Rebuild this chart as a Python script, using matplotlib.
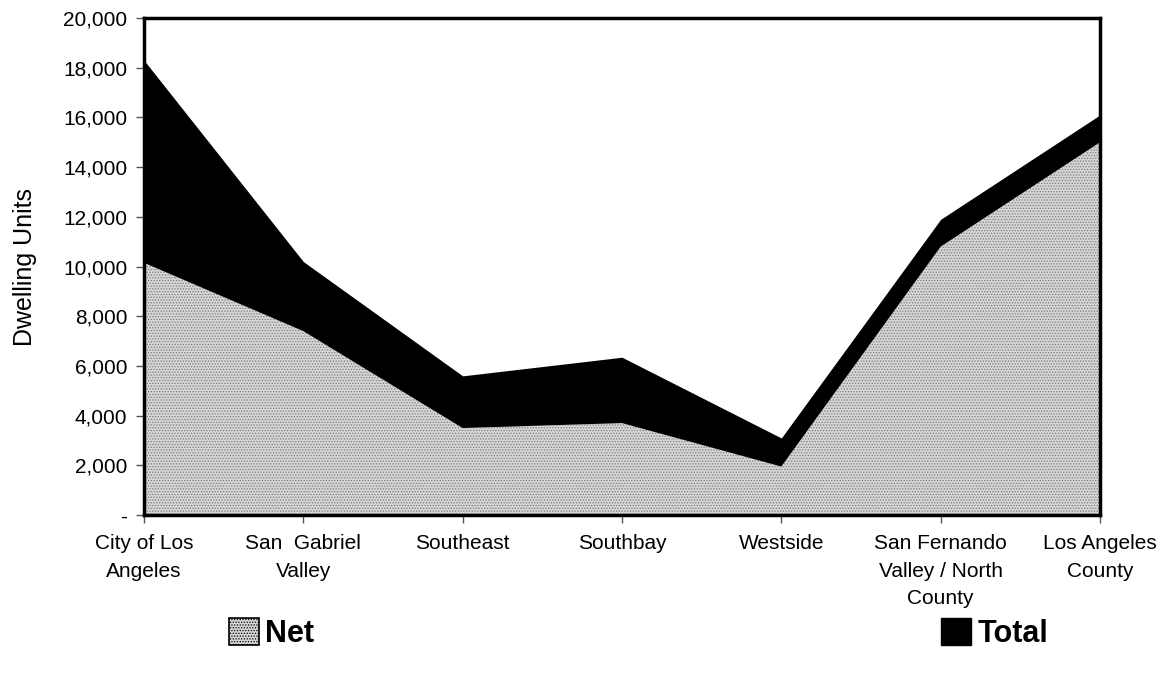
import matplotlib
matplotlib.use("Agg")
import matplotlib.pyplot as plt
from matplotlib.patches import Patch
import numpy as np

plt.rcParams["font.family"] = ["Liberation Sans", "DejaVu Sans"]
plt.rcParams["hatch.linewidth"] = 0.6

categories = [
    "City of Los\nAngeles",
    "San  Gabriel\nValley",
    "Southeast",
    "Southbay",
    "Westside",
    "San Fernando\nValley / North\nCounty",
    "Los Angeles\nCounty",
]
net = [10150, 7400, 3500, 3700, 1950, 10800, 15000]
total = [18300, 10200, 5600, 6350, 3100, 11900, 16100]
y_ticks = [0, 2000, 4000, 6000, 8000, 10000, 12000, 14000, 16000, 18000, 20000]
y_labels = ["-", "2,000", "4,000", "6,000", "8,000", "10,000",
            "12,000", "14,000", "16,000", "18,000", "20,000"]

NET_FACE = "#d6d6d6"
NET_HATCH = "#7a7a7a"

fig = plt.figure(figsize=(11.64, 6.75), dpi=100)
ax = fig.add_axes([0.1237, 0.237, 0.8213, 0.7363])

x = np.arange(len(categories))
ax.fill_between(x, 0, total, color="black", linewidth=0)
ax.fill_between(x, 0, net, facecolor=NET_FACE, edgecolor=NET_HATCH,
                hatch="......", linewidth=0)

ax.set_xlim(0, len(categories) - 1)
ax.set_ylim(0, 20000)
ax.set_xticks(x)
ax.set_xticklabels(categories, fontsize=15)
for lbl in ax.get_xticklabels():
    lbl.set_linespacing(1.55)
ax.set_yticks(y_ticks)
ax.set_yticklabels(y_labels, fontsize=15)
ax.tick_params(axis="both", direction="out", length=6, width=1, color="#555555")
ax.tick_params(axis="x", pad=8)
ax.tick_params(axis="y", pad=6)
ax.set_ylabel("Dwelling Units", fontsize=18, labelpad=19)

for s in ax.spines.values():
    s.set_linewidth(2.5)
    s.set_color("black")

handles = [
    Patch(facecolor=NET_FACE, edgecolor="black", hatch="......", linewidth=1.2, label="Net"),
    Patch(facecolor="black", edgecolor="black", label="Total"),
]
fig.legend(handles=handles, loc="center", bbox_to_anchor=(0.5485, 0.062), ncol=2,
           frameon=False, prop={"size": 22, "weight": "bold"},
           handlelength=1.0, handleheight=1.0, handletextpad=0.2, columnspacing=20.5)

fig.savefig("out.png", dpi=100)
